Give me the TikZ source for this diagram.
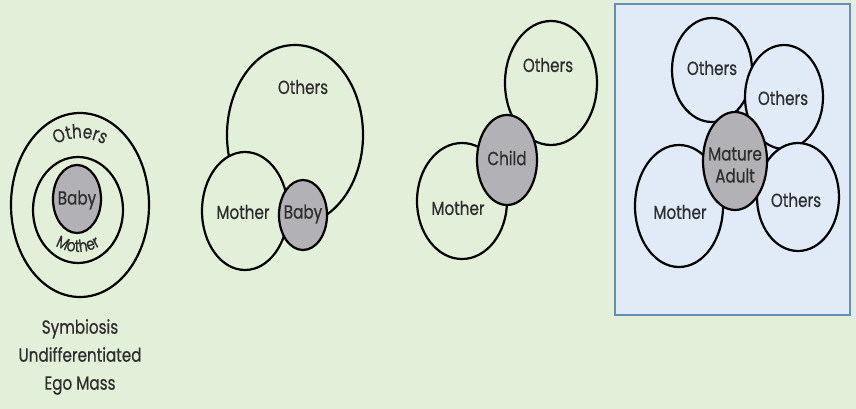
\documentclass[tikz,border=0pt]{standalone}
\usepackage{fontspec}
\setmainfont{Poppins}[FakeStretch=0.8, FakeBold=0.5]
\usetikzlibrary{decorations.text}

\definecolor{paper}{RGB}{226,240,218}
\definecolor{frame}{RGB}{224,235,247}
\definecolor{framedge}{RGB}{100,140,190}
\definecolor{selfgray}{RGB}{178,178,182}
\definecolor{txt}{RGB}{45,45,45}

\tikzset{
  ring/.style={draw=black, line width=2.2pt},
  other/.style={ring, fill=paper},
  otherb/.style={ring, fill=frame},
  self/.style={ring, fill=selfgray},
  lbl/.style={text=txt, font=\fontsize{19}{21}\selectfont, inner sep=0pt}
}

\begin{document}
\begin{tikzpicture}[x=1pt,y=-1pt]
  \useasboundingbox[fill=paper] (0,0) rectangle (856,409);

  % symbiosis: nested rings
  \draw[ring] (80,205) ellipse [x radius=69, y radius=92];
  \draw[ring] (78,210) ellipse [x radius=45, y radius=53];
  \draw[self] (77,199) ellipse [x radius=24, y radius=34];
  \node[lbl] (baby1) at (77,200) {Baby};
  \path[decorate, decoration={text along path, text align=center,
        text={|\fontsize{19}{21}\selectfont\color{txt}|Others}}]
    (80,205) ++(240:56 and 67) arc [start angle=240, end angle=300,
    x radius=56, y radius=67];
  \path[decorate, decoration={text along path, text align=center,
        text={|\fontsize{17}{20}\selectfont\color{txt}|Mother}}]
    (78,202) ++(145:46 and 50) arc [start angle=145, end angle=35,
    x radius=46, y radius=50];
  \node[lbl, align=center] (cap1) at (80,357)
    {Symbiosis\\[7pt]Undifferentiated\\[7pt]Ego Mass};

  % baby between mother and others
  \draw[other] (295,135) ellipse [x radius=68, y radius=90];
  \draw[other] (245,211) ellipse [x radius=43, y radius=59];
  \draw[self] (303,215) ellipse [x radius=24, y radius=35];
  \node[lbl] (others2) at (303,87) {Others};
  \node[lbl] (mother2) at (243,212) {Mother};
  \node[lbl] (baby2) at (303,214) {Baby};

  % child
  \draw[other] (551,83) ellipse [x radius=46, y radius=62];
  \draw[other] (462,201) ellipse [x radius=45, y radius=58];
  \draw[self] (507,160) ellipse [x radius=30, y radius=45];
  \node[lbl] (others3) at (548,65) {Others};
  \node[lbl] (mother3) at (458,208) {Mother};
  \node[lbl] (child3) at (507,158) {Child};

  % mature adult
  \draw[fill=frame, draw=framedge, line width=1.6pt] (615,4) rectangle (850,315);
  \draw[otherb] (712,70) ellipse [x radius=40, y radius=52];
  \draw[otherb] (784,97) ellipse [x radius=39, y radius=52];
  \draw[otherb] (679,206) ellipse [x radius=44, y radius=61];
  \draw[otherb] (798,197) ellipse [x radius=41, y radius=54];
  \draw[self] (735,161) ellipse [x radius=32, y radius=49];
  \node[lbl] (others4a) at (712,68) {Others};
  \node[lbl] (others4b) at (783,98) {Others};
  \node[lbl] (others4c) at (796,200) {Others};
  \node[lbl] (mother4) at (680,212) {Mother};
  \node[lbl, align=center] (adult4) at (735,165) {Mature\\[1pt]Adult};
\end{tikzpicture}
\end{document}
